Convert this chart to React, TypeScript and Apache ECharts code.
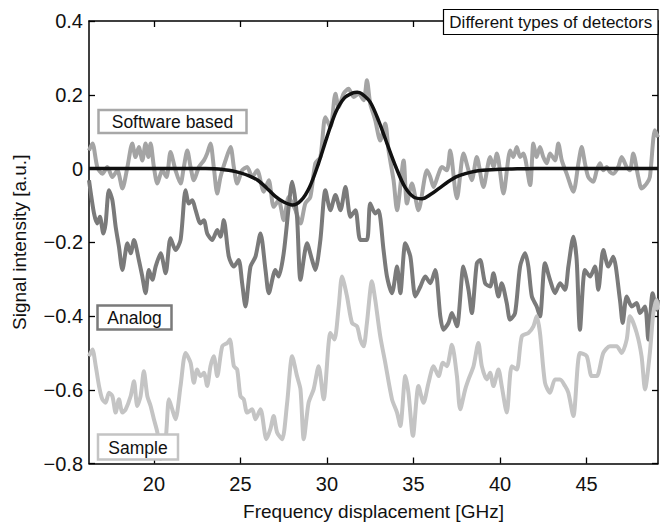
import React, { useEffect, useRef } from "react";
import * as echarts from "echarts";

const FONT = "'Liberation Sans', Arial, Helvetica, sans-serif";

const xTicks = [20, 25, 30, 35, 40, 45];
const yTicks = [-0.8, -0.6, -0.4, -0.2, 0, 0.2, 0.4];

const seriesNames = ["Software based", "Analog", "Sample", "Fit"];

const softwareData: [number, number][] = [
  [16.25, 0.049], [16.45, 0.068], [16.73, 0.004], [17.02, -0.014], [17.31, 0.004], [17.6, -0.023],
  [17.89, -0.005], [18.18, -0.054], [18.47, 0.004], [18.75, 0.068], [18.94, 0.031], [19.13, 0.058],
  [19.33, 0.022], [19.52, 0.068], [19.68, 0.031], [19.81, 0.068], [20.0, 0.004], [20.2, -0.041],
  [20.48, -0.005], [20.73, -0.023], [20.96, 0.045], [21.25, -0.005], [21.54, -0.041], [21.73, 0.004],
  [21.93, 0.049], [22.12, 0.004], [22.31, -0.032], [22.6, 0.004], [22.89, 0.022], [23.08, 0.041],
  [23.27, 0.068], [23.46, 0.004], [23.66, -0.068], [23.85, -0.023], [24.14, 0.022], [24.43, 0.058],
  [24.62, 0.004], [24.81, -0.041], [25.1, -0.005], [25.39, 0.004], [25.68, -0.023], [25.97, -0.005],
  [26.35, -0.063], [26.64, -0.032], [26.92, -0.104], [27.21, -0.086], [27.5, -0.14], [27.79, -0.077],
  [28.18, -0.113], [28.47, -0.149], [28.75, -0.095], [29.04, -0.077], [29.33, 0.014], [29.62, 0.031],
  [29.91, 0.139], [30.2, 0.112], [30.49, 0.203], [30.68, 0.166], [30.96, 0.203], [31.25, 0.216],
  [31.54, 0.194], [31.83, 0.203], [32.12, 0.185], [32.31, 0.239], [32.5, 0.176], [32.79, 0.131],
  [33.08, 0.076], [33.37, 0.122], [33.56, 0.049], [33.85, -0.032], [34.05, -0.113], [34.43, 0.022],
  [34.62, -0.095], [34.91, -0.041], [35.29, -0.113], [35.78, -0.005], [35.97, -0.023], [36.16, -0.05],
  [36.45, -0.014], [36.64, 0.004], [36.93, -0.005], [37.12, 0.049], [37.41, -0.059], [37.51, -0.081],
  [37.89, 0.041], [38.18, -0.005], [38.37, -0.032], [38.66, 0.031], [39.04, -0.05], [39.43, 0.031],
  [39.62, 0.004], [39.82, 0.041], [40.2, -0.068], [40.59, 0.049], [40.77, 0.031], [40.97, 0.058],
  [41.16, 0.031], [41.35, 0.041], [41.74, -0.045], [41.93, 0.068], [42.12, 0.031], [42.31, 0.058],
  [42.5, 0.031], [42.7, 0.014], [42.89, 0.041], [43.18, 0.022], [43.37, 0.068], [43.57, 0.022],
  [43.85, -0.014], [44.24, -0.063], [44.53, 0.014], [44.72, 0.058], [44.91, 0.014], [45.1, -0.023],
  [45.39, -0.036], [45.59, -0.005], [45.78, 0.014], [45.97, -0.005], [46.16, 0.004], [46.35, -0.009],
  [46.54, -0.014], [46.83, 0.004], [47.03, 0.031], [47.32, 0.004], [47.51, -0.005], [47.7, 0.041],
  [47.99, -0.023], [48.18, -0.054], [48.47, -0.041], [48.66, -0.023], [48.95, 0.104], [49.13, 0.085],
];

const analogData: [number, number][] = [
  [16.25, -0.032], [16.54, -0.122], [16.73, -0.149], [16.88, -0.131], [17.08, -0.176], [17.21, -0.149],
  [17.4, -0.059], [17.6, -0.086], [17.79, -0.158], [17.98, -0.212], [18.18, -0.275], [18.47, -0.203],
  [18.66, -0.23], [18.85, -0.194], [19.13, -0.248], [19.33, -0.293], [19.52, -0.338], [19.71, -0.275],
  [19.91, -0.302], [20.1, -0.266], [20.39, -0.23], [20.68, -0.284], [20.96, -0.189], [21.25, -0.221],
  [21.54, -0.194], [21.83, -0.059], [22.02, -0.095], [22.22, -0.086], [22.41, -0.113], [22.69, -0.149],
  [22.89, -0.14], [23.08, -0.176], [23.37, -0.194], [23.66, -0.167], [23.85, -0.185], [24.04, -0.14],
  [24.33, -0.239], [24.62, -0.266], [24.9, -0.248], [25.1, -0.311], [25.29, -0.374], [25.58, -0.266],
  [25.87, -0.239], [26.16, -0.176], [26.45, -0.275], [26.64, -0.338], [27.02, -0.275], [27.21, -0.293],
  [27.5, -0.23], [27.79, -0.104], [27.99, -0.036], [28.27, -0.131], [28.47, -0.302], [28.85, -0.203],
  [29.14, -0.248], [29.33, -0.275], [29.62, -0.194], [29.91, -0.059], [30.2, -0.113], [30.49, -0.072],
  [30.78, -0.113], [31.07, -0.05], [31.36, -0.131], [31.65, -0.113], [31.93, -0.194], [32.31, -0.194],
  [32.5, -0.095], [32.79, -0.122], [32.98, -0.113], [33.27, -0.221], [33.47, -0.293], [33.76, -0.338],
  [34.05, -0.266], [34.24, -0.338], [34.53, -0.203], [34.82, -0.239], [35.11, -0.347], [35.4, -0.32],
  [35.68, -0.293], [35.97, -0.311], [36.26, -0.275], [36.55, -0.401], [36.73, -0.437], [37.02, -0.419],
  [37.22, -0.392], [37.51, -0.428], [37.89, -0.266], [38.18, -0.329], [38.37, -0.392], [38.66, -0.257],
  [38.85, -0.248], [39.14, -0.311], [39.43, -0.32], [39.62, -0.284], [39.91, -0.347], [40.1, -0.311],
  [40.39, -0.365], [40.58, -0.41], [40.87, -0.392], [41.16, -0.266], [41.45, -0.23], [41.64, -0.266],
  [41.84, -0.347], [42.12, -0.374], [42.31, -0.401], [42.6, -0.257], [42.89, -0.302], [43.18, -0.338],
  [43.47, -0.311], [43.76, -0.329], [43.95, -0.266], [44.24, -0.185], [44.43, -0.248], [44.62, -0.437],
  [44.91, -0.275], [45.2, -0.293], [45.49, -0.266], [45.68, -0.329], [45.97, -0.221], [46.26, -0.266],
  [46.54, -0.239], [46.93, -0.356], [47.09, -0.419], [47.32, -0.347], [47.61, -0.374], [47.9, -0.365],
  [48.09, -0.392], [48.38, -0.374], [48.57, -0.464], [48.82, -0.338], [49.05, -0.383], [49.13, -0.356],
];

const sampleData: [number, number][] = [
  [16.25, -0.509], [16.45, -0.491], [16.64, -0.536], [16.83, -0.59], [17.02, -0.626], [17.21, -0.635],
  [17.4, -0.608], [17.6, -0.617], [17.79, -0.662], [17.98, -0.626], [18.18, -0.662], [18.37, -0.653],
  [18.66, -0.617], [18.85, -0.577], [19.04, -0.644], [19.23, -0.617], [19.42, -0.55], [19.62, -0.617],
  [19.81, -0.644], [20.0, -0.68], [20.2, -0.716], [20.39, -0.788], [20.68, -0.734], [20.87, -0.626],
  [21.06, -0.653], [21.25, -0.68], [21.54, -0.59], [21.83, -0.5], [22.12, -0.527], [22.31, -0.581],
  [22.5, -0.545], [22.69, -0.563], [22.89, -0.554], [23.08, -0.59], [23.27, -0.536], [23.46, -0.509],
  [23.66, -0.563], [23.95, -0.482], [24.24, -0.473], [24.39, -0.464], [24.62, -0.536], [24.81, -0.545],
  [25.0, -0.617], [25.19, -0.626], [25.39, -0.662], [25.68, -0.653], [25.87, -0.68], [26.16, -0.653],
  [26.5, -0.734], [26.73, -0.707], [26.92, -0.671], [27.12, -0.716], [27.41, -0.734], [27.7, -0.635],
  [27.99, -0.509], [28.27, -0.563], [28.47, -0.599], [28.66, -0.734], [28.94, -0.635], [29.23, -0.599],
  [29.52, -0.536], [29.81, -0.626], [30.2, -0.446], [30.43, -0.464], [30.68, -0.374], [30.87, -0.293],
  [31.16, -0.347], [31.45, -0.419], [31.74, -0.428], [31.93, -0.464], [32.12, -0.482], [32.31, -0.419],
  [32.6, -0.306], [32.79, -0.356], [33.08, -0.455], [33.37, -0.527], [33.76, -0.626], [34.05, -0.662],
  [34.24, -0.698], [34.53, -0.563], [34.71, -0.608], [34.97, -0.725], [35.29, -0.59], [35.58, -0.635],
  [35.87, -0.581], [36.16, -0.536], [36.45, -0.563], [36.7, -0.527], [36.93, -0.536], [37.22, -0.478],
  [37.51, -0.563], [37.7, -0.653], [37.99, -0.599], [38.18, -0.572], [38.47, -0.536], [38.75, -0.473],
  [38.95, -0.536], [39.24, -0.572], [39.43, -0.554], [39.62, -0.59], [39.91, -0.545], [40.1, -0.59],
  [40.39, -0.662], [40.68, -0.536], [40.97, -0.545], [41.26, -0.455], [41.64, -0.446], [41.93, -0.428],
  [42.12, -0.401], [42.31, -0.446], [42.6, -0.581], [42.89, -0.608], [43.18, -0.572], [43.47, -0.572],
  [43.76, -0.59], [43.95, -0.608], [44.24, -0.671], [44.62, -0.5], [45.01, -0.509], [45.3, -0.563],
  [45.59, -0.563], [45.97, -0.5], [46.35, -0.482], [46.74, -0.482], [47.03, -0.5], [47.32, -0.464],
  [47.51, -0.401], [47.9, -0.446], [48.18, -0.509], [48.38, -0.599], [48.66, -0.5], [48.86, -0.392],
  [49.05, -0.356], [49.13, -0.383],
];

const fitData: [number, number][] = [
  [16.25, 0], [17, 0], [18, 0], [19, 0], [20, 0], [21, 0], [22, 0], [23, 0], [23.5, -0.001],
  [24, -0.003], [24.5, -0.006], [25, -0.012], [25.5, -0.02], [26, -0.032], [26.5, -0.052],
  [27, -0.075], [27.5, -0.091], [28, -0.099], [28.5, -0.087], [29, -0.05], [29.5, 0.012],
  [30, 0.085], [30.5, 0.152], [31, 0.191], [31.5, 0.205], [31.75, 0.207], [32, 0.203], [32.5, 0.18], [33, 0.128],
  [33.5, 0.064], [34, 0.002], [34.5, -0.05], [35, -0.077], [35.5, -0.082], [36, -0.07],
  [36.5, -0.053], [37, -0.036], [37.5, -0.022], [38, -0.014], [38.5, -0.008], [39, -0.005],
  [40, -0.002], [41, -0.001], [42, 0], [44, 0], [46, 0], [48, 0], [49.13, 0],
];

const X_MIN = 16.25;
const X_MAX = 49.13;

const fmtY = (v: number) => {
  if (Math.abs(v) < 1e-9) return "0";
  return (v < 0 ? "\u2212" : "") + Math.abs(v).toFixed(1);
};

const axisLineStyle = { color: "#000", width: 1.5 };
const tickStyle = { color: "#000", width: 1.3 };

function labelBox(x: number, y: number, w: number, h: number, text: string, stroke: string, lw: number, fontSize: number) {
  return {
    type: "group",
    z: 100,
    children: [
      { type: "rect", shape: { x, y, width: w, height: h }, style: { fill: "#fff", stroke, lineWidth: lw }, z: 100 },
      {
        type: "text",
        x: x + w / 2,
        y: y + h / 2 + 0.5,
        z: 101,
        style: {
          text,
          fill: "#111",
          fontSize,
          fontFamily: FONT,
          align: "center",
          verticalAlign: "middle",
          textAlign: "center",
          textVerticalAlign: "middle",
        },
      },
    ],
  };
}

export default function App() {
  const ref = useRef<HTMLDivElement>(null);
  useEffect(() => {
    if (!ref.current) return;
    const chart = echarts.init(ref.current, null, { renderer: "svg" });
    const option: any = {
      animation: false,
      backgroundColor: "#fff",
      textStyle: { fontFamily: FONT },
      grid: { left: 89, right: 8, top: 21, bottom: 63.5, containLabel: false },
      xAxis: [
        {
          type: "value",
          min: X_MIN,
          max: X_MAX,
          position: "bottom",
          name: "Frequency displacement [GHz]",
          nameLocation: "middle",
          nameGap: 38,
          nameTextStyle: { fontSize: 19, color: "#111", fontFamily: FONT },
          axisLine: { show: true, onZero: false, lineStyle: axisLineStyle },
          axisTick: { show: true, inside: true, length: 6, customValues: xTicks, lineStyle: tickStyle },
          axisLabel: { show: true, customValues: xTicks, fontSize: 20, color: "#111", margin: 10, fontFamily: FONT },
          splitLine: { show: false },
        },
        {
          type: "value",
          min: X_MIN,
          max: X_MAX,
          position: "top",
          axisLine: { show: true, onZero: false, lineStyle: axisLineStyle },
          axisTick: { show: true, inside: true, length: 6, customValues: xTicks, lineStyle: tickStyle },
          axisLabel: { show: false },
          splitLine: { show: false },
        },
      ],
      yAxis: [
        {
          type: "value",
          min: -0.8,
          max: 0.4,
          interval: 0.2,
          position: "left",
          name: "Signal intensity [a.u.]",
          nameLocation: "middle",
          nameGap: 60,
          nameTextStyle: { fontSize: 19, color: "#111", fontFamily: FONT },
          axisLine: { show: true, onZero: false, lineStyle: axisLineStyle },
          axisTick: { show: true, inside: true, length: 6, lineStyle: tickStyle },
          axisLabel: {
            show: true,
            fontSize: 20,
            color: "#111",
            margin: 6,
            fontFamily: FONT,
            customValues: yTicks,
            formatter: (v: number) => fmtY(v),
          },
          splitLine: { show: false },
        },
        {
          type: "value",
          min: -0.8,
          max: 0.4,
          interval: 0.2,
          position: "right",
          axisLine: { show: true, onZero: false, lineStyle: axisLineStyle },
          axisTick: { show: true, inside: true, length: 6, lineStyle: tickStyle },
          axisLabel: { show: false },
          splitLine: { show: false },
        },
      ],
      series: [
        {
          name: seriesNames[0],
          type: "line",
          data: softwareData,
          showSymbol: false,
          smooth: 0.25,
          lineStyle: { color: "#a4a4a4", width: 4 },
          itemStyle: { color: "#a4a4a4" },
          z: 2,
        },
        {
          name: seriesNames[1],
          type: "line",
          data: analogData,
          showSymbol: false,
          smooth: 0.25,
          lineStyle: { color: "#7a7a7a", width: 4 },
          itemStyle: { color: "#7a7a7a" },
          z: 3,
        },
        {
          name: seriesNames[2],
          type: "line",
          data: sampleData,
          showSymbol: false,
          smooth: 0.25,
          lineStyle: { color: "#c4c4c4", width: 4 },
          itemStyle: { color: "#c4c4c4" },
          z: 4,
        },
        {
          name: seriesNames[3],
          type: "line",
          data: fitData,
          showSymbol: false,
          smooth: 0.3,
          lineStyle: { color: "#111", width: 3.5 },
          itemStyle: { color: "#111" },
          z: 5,
        },
      ],
      graphic: [
        labelBox(98.5, 110, 148, 23, "Software based", "#a8a8a8", 2.5, 17.5),
        labelBox(97.5, 305.5, 74, 24, "Analog", "#7a7a7a", 2.5, 17.5),
        labelBox(98, 434.5, 80, 25, "Sample", "#c4c4c4", 2.5, 17.5),
        labelBox(443.5, 9.5, 214.5, 25, "Different types of detectors", "#000", 1.2, 17),
      ],
    };
    chart.setOption(option);
    return () => chart.dispose();
  }, []);
  return <div ref={ref} style={{ position: "absolute", left: 0, top: 0, width: 666, height: 527 }} />;
}
